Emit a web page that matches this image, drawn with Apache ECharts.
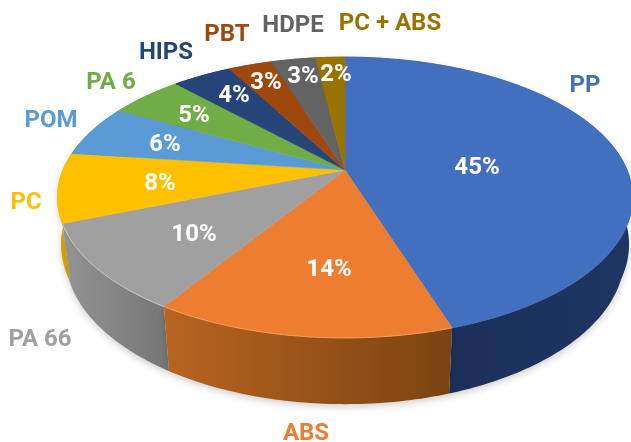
<!DOCTYPE html>
<html>
<head>
<meta charset="utf-8">
<title>Pie</title>
<style>
  html, body { margin: 0; padding: 0; background: #fff; overflow: hidden; }
  #chart { width: 631px; height: 442px; }
</style>
</head>
<body>
<div id="chart"></div>
<script src="https://cdn.jsdelivr.net/npm/echarts@6/dist/echarts.min.js"></script>
<script>
const categories = ['PP', 'ABS', 'PA 66', 'PC', 'POM', 'PA 6', 'HIPS', 'PBT', 'HDPE', 'PC + ABS']
const shares = [45, 14, 10, 8, 6, 5, 4, 3, 3, 2]
const colors = ['#4270BF', '#ED7D31', '#A0A0A0', '#FFC000', '#5B9BD5', '#70AD47', '#264478', '#9E480E', '#636363', '#997300']
// side wall colours, left to right
const sideColors = [
  ['#1A2C54', '#1F3563'], ['#B8641F', '#7A4313'], ['#939393', '#767676'], ['#DFA800', '#DFA800'], ['#3F6F9C', '#3F6F9C'],
  ['#4F7A32', '#4F7A32'], ['#1A2F54', '#1A2F54'], ['#6E320A', '#6E320A'], ['#454545', '#454545'], ['#6B5000', '#6B5000'],
]
// light edge along the front rim
const rimColors = ['#4270BF', '#F29A5C', '#C6C6C6', '#FFC000', '#5B9BD5', '#70AD47', '#264478', '#9E480E', '#636363', '#997300']
// hand placed text, same order as categories
const namePos = [[585, 86], [306, 434], [40, 340], [26, 203], [51, 121], [111, 83], [166, 53], [227, 35], [293, 26], [390, 24]]
const pctPos = [[477, 168], [329, 270], [194, 235], [160, 184], [165, 145], [194, 116], [234, 96], [266, 83], [303, 77], [336, 75]]

// perspective of the tilted disc
const cx = 345
const cy = 170
const rx = 282
const ry = 135
const tilt = 0.196

const total = shares.reduce((a, b) => a + b, 0)

function project(angle) {
  const u = Math.sin(angle)
  const v = -Math.cos(angle)
  const d = 1 - tilt * v
  return [cx + (rx * u) / d, cy + (ry * v) / d]
}

// lower rim is a bit narrower than the upper one, mostly towards the front
function dropDown(p) {
  const front = Math.max(0, Math.min(1, (p[1] - cy) / 50))
  const s = 1 - 0.028 * front
  return [cx + (p[0] - cx) * s, p[1] + 57 + 0.055 * (p[1] - cy)]
}

function sliceRange(index) {
  let before = 0
  for (let i = 0; i < index; i++) before += shares[i]
  return [(before / total) * Math.PI * 2, ((before + shares[index]) / total) * Math.PI * 2]
}

function arcPoints(index) {
  const [a0, a1] = sliceRange(index)
  const steps = Math.max(6, Math.ceil((a1 - a0) / 0.015))
  const pts = []
  for (let i = 0; i <= steps; i++) pts.push(project(a0 + ((a1 - a0) * i) / steps))
  return pts
}

function renderSide(params) {
  const i = params.dataIndex
  const top = arcPoints(i)
  const bottom = top.map(dropDown).reverse()
  const [a0, a1] = sliceRange(i)
  return {
    type: 'polygon',
    z2: Math.round((-Math.cos((a0 + a1) / 2) + 1) * 100),
    shape: { points: top.concat(bottom) },
    style: {
      fill: new echarts.graphic.LinearGradient(0, 0, 1, 0, [
        { offset: 0, color: sideColors[i][0] },
        { offset: 1, color: sideColors[i][1] },
      ]),
      shadowColor: 'rgba(0,0,0,0.18)',
      shadowBlur: 7,
      shadowOffsetY: 3,
    },
  }
}

function renderTop(params) {
  const i = params.dataIndex
  const rim = arcPoints(i)
  return {
    type: 'group',
    children: [
      {
        type: 'polygon',
        shape: { points: [[cx, cy]].concat(rim) },
        style: { fill: colors[i], stroke: colors[i], lineWidth: 0.5 },
      },
      {
        type: 'polyline',
        shape: { points: rim },
        style: { fill: null, stroke: rimColors[i], lineWidth: 1 },
      },
    ],
  }
}

function renderText(params, api) {
  const i = params.dataIndex
  const font = 'bold 24px Roboto'
  return {
    type: 'group',
    children: [
      {
        type: 'text',
        x: namePos[i][0],
        y: namePos[i][1],
        style: { text: api.value(0), font: font, fill: colors[i], align: 'center', verticalAlign: 'middle' },
      },
      {
        type: 'text',
        x: pctPos[i][0],
        y: pctPos[i][1],
        style: { text: api.value(1) + '%', font: font, fill: '#fff', align: 'center', verticalAlign: 'middle' },
      },
    ],
  }
}

const tableData = categories.map((name, i) => [name, shares[i]])

const chart = echarts.init(document.getElementById('chart'))
chart.setOption({
  animation: false,
  backgroundColor: '#fff',
  series: [
    { type: 'custom', coordinateSystem: 'none', z: 1, data: tableData, renderItem: renderSide, silent: true },
    { type: 'custom', coordinateSystem: 'none', z: 2, data: tableData, renderItem: renderTop, silent: true },
    { type: 'custom', coordinateSystem: 'none', z: 3, data: tableData, renderItem: renderText, silent: true },
  ],
})
</script>
</body>
</html>
